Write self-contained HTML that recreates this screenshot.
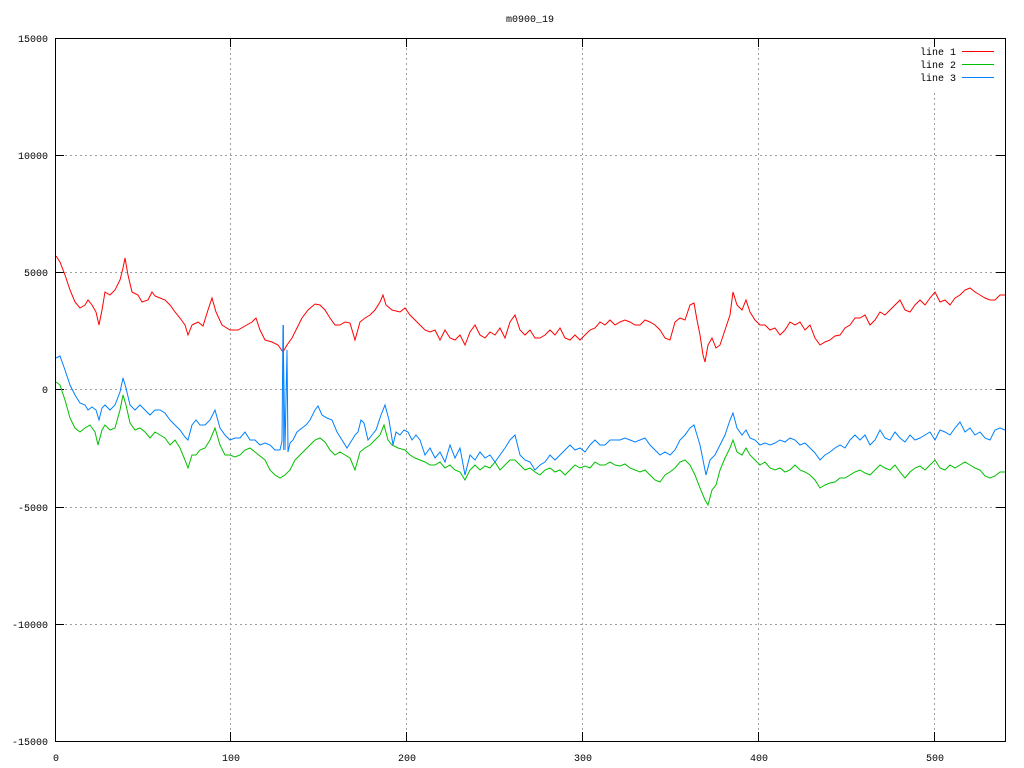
<!DOCTYPE html>
<html><head><meta charset="utf-8"><style>body{margin:0;background:#fff}svg{display:block}text{font-family:"Liberation Mono",monospace;font-size:10px;fill:#000}</style></head><body>
<svg width="1024" height="768" xmlns="http://www.w3.org/2000/svg">
<rect width="1024" height="768" fill="#fff"/>
<g stroke="#a0a0a0" stroke-dasharray="2,3" stroke-width="1">
<line x1="55" y1="155.5" x2="1005" y2="155.5"/><line x1="55" y1="272.5" x2="1005" y2="272.5"/><line x1="55" y1="389.5" x2="1005" y2="389.5"/><line x1="55" y1="507.5" x2="1005" y2="507.5"/><line x1="55" y1="624.5" x2="1005" y2="624.5"/>
<line x1="230.5" y1="38" x2="230.5" y2="741"/><line x1="406.5" y1="38" x2="406.5" y2="741"/><line x1="582.5" y1="38" x2="582.5" y2="741"/><line x1="758.5" y1="38" x2="758.5" y2="741"/><line x1="934.5" y1="38" x2="934.5" y2="741"/>
<line x1="934.5" y1="38" x2="934.5" y2="90" stroke="#fff" stroke-dasharray="none"/>
</g>
<rect x="55.5" y="38.5" width="950" height="703" fill="none" stroke="#000"/>
<g stroke="#000">
<line x1="55" y1="155.5" x2="64" y2="155.5"/><line x1="55" y1="272.5" x2="64" y2="272.5"/><line x1="55" y1="389.5" x2="64" y2="389.5"/><line x1="55" y1="507.5" x2="64" y2="507.5"/><line x1="55" y1="624.5" x2="64" y2="624.5"/>
<line x1="996" y1="155.5" x2="1005" y2="155.5"/><line x1="996" y1="272.5" x2="1005" y2="272.5"/><line x1="996" y1="389.5" x2="1005" y2="389.5"/><line x1="996" y1="507.5" x2="1005" y2="507.5"/><line x1="996" y1="624.5" x2="1005" y2="624.5"/>
<line x1="230.5" y1="741" x2="230.5" y2="732"/><line x1="406.5" y1="741" x2="406.5" y2="732"/><line x1="582.5" y1="741" x2="582.5" y2="732"/><line x1="758.5" y1="741" x2="758.5" y2="732"/><line x1="934.5" y1="741" x2="934.5" y2="732"/>
<line x1="230.5" y1="38" x2="230.5" y2="47"/><line x1="406.5" y1="38" x2="406.5" y2="47"/><line x1="582.5" y1="38" x2="582.5" y2="47"/><line x1="758.5" y1="38" x2="758.5" y2="47"/><line x1="934.5" y1="38" x2="934.5" y2="47"/>
</g>
<g text-anchor="end">
<text x="48" y="42">15000</text><text x="48" y="159">10000</text><text x="48" y="276">5000</text><text x="48" y="393">0</text><text x="48" y="511">-5000</text><text x="48" y="628">-10000</text><text x="48" y="745">-15000</text>
</g>
<g text-anchor="middle">
<text x="56" y="761">0</text><text x="231" y="761">100</text><text x="407" y="761">200</text><text x="583" y="761">300</text><text x="759" y="761">400</text><text x="935" y="761">500</text>
<text x="530" y="22">m0900_19</text>
</g>
<g text-anchor="end"><text x="956" y="55">line 1</text><text x="956" y="68">line 2</text><text x="956" y="81">line 3</text></g>
<line x1="962" y1="51.5" x2="994" y2="51.5" stroke="#ff0000"/>
<line x1="962" y1="64.5" x2="994" y2="64.5" stroke="#00c000"/>
<line x1="962" y1="77.5" x2="994" y2="77.5" stroke="#0080ff"/>
<line x1="283.5" y1="325" x2="283.5" y2="450" stroke="#888"/>
<g fill="none" stroke-width="1">
<polyline stroke="#ff0000" points="56,256 60,262 65,275 70,290 75,302 80,308 85,305 88,300 92,305 96,312 99,325 102,310 105,292 110,295 115,290 120,280 123,268 125,258 128,275 132,292 138,295 142,302 148,300 152,292 155,296 160,298 165,300 170,305 175,312 180,318 185,325 188,335 192,325 198,322 203,326 208,310 212,298 216,312 222,325 230,330 238,330 245,326 252,322 256,318 260,330 265,340 272,342 278,345 283,352 287,345 292,338 297,328 302,318 308,310 315,304 320,305 325,310 330,318 335,325 340,325 345,322 350,323 355,340 360,322 365,318 370,315 375,310 380,302 383,295 386,305 392,310 400,312 405,308 410,315 415,320 420,325 425,330 430,332 435,330 440,340 445,330 450,338 455,340 460,335 465,345 470,332 475,325 480,335 485,338 490,332 495,335 500,328 505,338 510,322 515,315 520,330 525,335 530,330 535,338 540,338 545,335 550,330 555,335 560,328 565,338 570,340 575,335 580,340 585,335 590,330 595,328 600,322 605,325 610,320 615,325 620,322 625,320 630,322 635,325 640,325 645,320 650,322 655,325 660,330 665,338 670,340 675,322 680,318 685,320 690,305 694,303 697,320 700,335 703,355 705,362 708,345 712,338 716,348 720,345 725,330 730,315 733,292 737,305 742,310 746,300 750,312 755,320 760,325 765,325 770,330 775,328 780,335 785,330 790,322 795,325 800,322 805,330 810,325 815,338 820,345 825,342 830,340 835,336 840,335 845,328 850,325 855,318 860,318 865,315 870,325 875,320 880,312 885,315 890,310 895,305 900,300 905,310 910,312 915,305 920,300 925,305 930,298 935,292 940,302 945,300 950,305 955,298 960,295 965,290 970,288 975,292 980,295 985,298 990,300 995,300 1000,295 1005,295"/>
<polyline stroke="#00c000" points="56,382 60,385 65,400 70,418 75,428 80,432 85,428 90,425 95,432 98,445 102,430 105,425 110,430 115,428 120,410 123,395 126,405 130,423 135,430 140,428 145,432 150,438 155,432 160,435 165,438 170,445 175,440 180,448 185,460 188,468 192,455 196,455 200,450 205,448 210,440 215,428 220,445 225,455 230,455 235,457 240,455 245,450 250,448 255,452 260,456 265,460 270,470 275,475 280,478 285,475 290,470 295,460 300,455 305,450 310,445 315,440 320,438 325,442 330,450 335,455 340,452 345,455 350,458 355,470 360,452 365,448 370,445 375,440 380,435 384,425 388,440 392,445 398,448 405,450 410,455 415,458 420,460 425,462 430,465 435,465 440,462 445,468 450,465 455,470 460,472 465,480 470,470 475,465 480,470 485,466 490,468 495,462 500,470 505,465 510,460 515,460 520,465 525,470 530,468 535,472 540,475 545,470 550,468 555,472 560,470 565,475 570,470 575,465 580,468 585,466 590,468 595,462 600,465 605,465 610,462 615,465 620,466 625,464 630,468 635,470 640,472 645,470 650,475 655,480 660,482 665,475 670,472 675,468 680,462 685,460 690,465 695,475 700,488 705,500 708,505 712,490 716,485 720,470 725,458 730,448 733,440 737,452 742,455 746,448 750,455 755,460 760,465 765,462 770,468 775,470 780,468 785,472 790,470 795,465 800,470 805,472 810,475 815,480 820,488 825,485 830,483 835,482 840,478 845,478 850,475 855,472 860,470 865,473 870,475 875,470 880,465 885,468 890,470 895,465 900,472 905,478 910,472 915,468 920,466 925,470 930,465 935,460 940,468 945,470 950,465 955,468 960,465 965,462 970,465 975,468 980,470 985,476 990,478 995,476 1000,472 1005,472"/>
<polyline stroke="#0080ff" points="56,358 60,356 65,370 70,385 75,395 80,403 85,405 88,410 92,407 96,410 99,420 102,408 105,405 110,410 115,405 120,392 123,378 126,388 130,405 135,410 140,405 145,410 150,415 155,410 160,410 165,413 170,420 175,425 180,430 185,437 188,440 192,425 196,420 200,425 205,425 210,420 215,410 220,428 225,435 230,440 235,438 240,438 245,432 250,440 255,440 260,445 265,443 270,445 275,450 280,450 282,441 283,325 285,450 287,350 288,452 290,443 293,440 297,432 302,428 306,425 310,420 315,410 318,406 322,415 327,418 332,420 337,432 342,440 347,448 352,440 355,435 358,432 361,420 364,423 368,440 372,435 376,430 381,415 385,405 389,420 393,445 396,432 400,435 404,430 408,432 412,440 416,435 420,440 425,455 430,448 435,458 440,452 445,462 450,445 455,458 460,448 465,475 470,455 475,460 480,452 485,458 490,455 495,462 500,455 505,448 510,440 515,435 520,455 525,460 530,462 535,470 540,465 545,462 550,455 555,460 560,455 565,450 570,445 575,450 580,448 585,452 590,445 595,440 600,445 605,445 610,440 615,440 620,440 625,438 630,440 635,442 640,440 645,438 650,445 655,450 660,455 665,452 670,455 675,450 680,440 685,435 690,428 694,425 697,435 700,445 703,460 706,475 710,460 715,455 720,445 725,435 730,420 733,413 737,428 742,435 746,430 750,438 755,440 760,445 765,443 770,445 775,443 780,440 785,442 790,438 795,440 800,445 805,443 810,448 815,453 820,460 825,455 830,452 835,448 840,445 845,448 850,440 855,435 860,440 865,435 870,445 875,440 880,430 885,438 890,440 895,432 900,438 905,442 910,435 915,440 920,438 925,435 930,432 935,440 940,430 945,432 950,435 955,428 960,422 965,432 970,428 975,435 980,432 985,438 990,440 995,430 1000,428 1005,430"/>
</g>
</svg>
</body></html>
